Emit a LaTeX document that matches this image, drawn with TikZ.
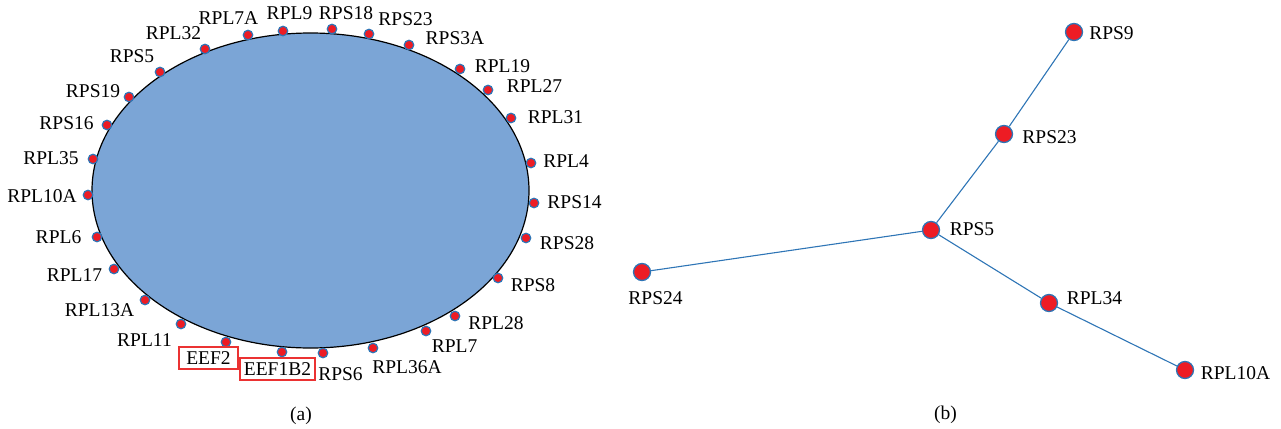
\documentclass[tikz,border=0pt]{standalone}
\usepackage{fontspec}
\setmainfont{Liberation Serif}
\definecolor{ellfill}{RGB}{123,165,214}
\definecolor{dotred}{RGB}{237,28,36}
\definecolor{dotblue}{RGB}{46,117,182}
\definecolor{boxred}{RGB}{235,50,50}
\definecolor{edgeblue}{RGB}{46,117,182}
\begin{document}
\begin{tikzpicture}[x=1pt,y=-1pt,
  smalldot/.style={circle,fill=dotred,draw=dotblue,line width=1.2pt,inner sep=0pt,minimum size=9.5pt},
  bigdot/.style={circle,fill=dotred,draw=dotblue,line width=1.3pt,inner sep=0pt,minimum size=17pt},
  lbl/.style={anchor=base,inner sep=0pt,font=\fontsize{19.5}{23}\selectfont},
  boxlbl/.style={draw=boxred,line width=1.1pt,inner sep=0pt,minimum height=22pt,font=\fontsize{19.5}{23}\selectfont},
  edge/.style={draw=edgeblue,line width=1.1pt}]
\useasboundingbox (0,0) rectangle (1281,428);
% ---------- (a) ----------
\draw[fill=ellfill,line width=1.2pt] (310.5,190.5) ellipse [x radius=218.5, y radius=157.5];
% dots
\node[smalldot] (d1) at (248,35) {};
\node[smalldot] (d2) at (283,31) {};
\node[smalldot] (d3) at (205,49) {};
\node[smalldot] (d4) at (160,72) {};
\node[smalldot] (d5) at (129,97) {};
\node[smalldot] (d6) at (107,125) {};
\node[smalldot] (d7) at (93,159) {};
\node[smalldot] (d8) at (88,195) {};
\node[smalldot] (d9) at (332,29) {};
\node[smalldot] (d10) at (369,34) {};
\node[smalldot] (d11) at (409,45) {};
\node[smalldot] (d12) at (460,69) {};
\node[smalldot] (d13) at (488,90) {};
\node[smalldot] (d14) at (511,118) {};
\node[smalldot] (d15) at (531,163) {};
\node[smalldot] (d16) at (534,203) {};
\node[smalldot] (d17) at (97,237) {};
\node[smalldot] (d18) at (114,269) {};
\node[smalldot] (d19) at (145,300) {};
\node[smalldot] (d20) at (181,324) {};
\node[smalldot] (d21) at (226,342) {};
\node[smalldot] (d22) at (282,352) {};
\node[smalldot] (d23) at (323,353) {};
\node[smalldot] (d24) at (373,348) {};
\node[smalldot] (d25) at (426,331) {};
\node[smalldot] (d26) at (455,316) {};
\node[smalldot] (d27) at (498,278) {};
\node[smalldot] (d28) at (526,238) {};
% labels
\node[lbl] (l1) at (228.5,25) {RPL7A};
\node[lbl] (l2) at (289.5,20) {RPL9};
\node[lbl] (l3) at (173.5,40) {RPL32};
\node[lbl] (l4) at (132,63) {RPS5};
\node[lbl] (l5) at (93,97) {RPS19};
\node[lbl] (l6) at (66.5,129) {RPS16};
\node[lbl] (l7) at (51,164) {RPL35};
\node[lbl] (l8) at (42,202) {RPL10A};
\node[lbl] (l9) at (346,20) {RPS18};
\node[lbl] (l10) at (405.5,26) {RPS23};
\node[lbl] (l11) at (455,45) {RPS3A};
\node[lbl] (l12) at (502.5,73) {RPL19};
\node[lbl] (l13) at (534.5,92) {RPL27};
\node[lbl] (l14) at (555.5,123) {RPL31};
\node[lbl] (l15) at (566,167) {RPL4};
\node[lbl] (l16) at (574.5,208) {RPS14};
\node[lbl] (l17) at (58.5,243) {RPL6};
\node[lbl] (l18) at (74.5,281) {RPL17};
\node[lbl] (l19) at (99.5,316) {RPL13A};
\node[lbl] (l20) at (144.5,346) {RPL11};
\node[boxlbl,minimum width=59pt] (l21) at (208.5,358) {EEF2};
\node[boxlbl,minimum width=75pt] (l22) at (277.5,369) {EEF1B2};
\node[lbl] (l23) at (340.5,380) {RPS6};
\node[lbl] (l24) at (407,373) {RPL36A};
\node[lbl] (l25) at (454.5,352) {RPL7};
\node[lbl] (l26) at (496,329) {RPL28};
\node[lbl] (l27) at (533,291) {RPS8};
\node[lbl] (l28) at (567,249) {RPS28};
\node[lbl] (capa) at (301,420) {(a)};
% ---------- (b) ----------
\node[bigdot] (rps24) at (642,272) {};
\node[bigdot] (rps5) at (931,230) {};
\node[bigdot] (rps9) at (1074,32) {};
\node[bigdot] (rps23) at (1004,134) {};
\node[bigdot] (rpl34) at (1049,303) {};
\node[bigdot] (rpl10a) at (1185,370) {};
\path[edge] (rps24) -- (rps5);
\path[edge] (rps5) -- (rps23);
\path[edge] (rps23) -- (rps9);
\path[edge] (rps5) -- (rpl34);
\path[edge] (rpl34) -- (rpl10a);
\node[lbl] (t24) at (655.5,304) {RPS24};
\node[lbl] (t5) at (972,235) {RPS5};
\node[lbl] (t9) at (1111.5,40) {RPS9};
\node[lbl] (t23) at (1049.5,143) {RPS23};
\node[lbl] (t34) at (1094.5,304) {RPL34};
\node[lbl] (t10a) at (1235.5,379) {RPL10A};
\node[lbl] (capb) at (945.5,419) {(b)};
\end{tikzpicture}
\end{document}
